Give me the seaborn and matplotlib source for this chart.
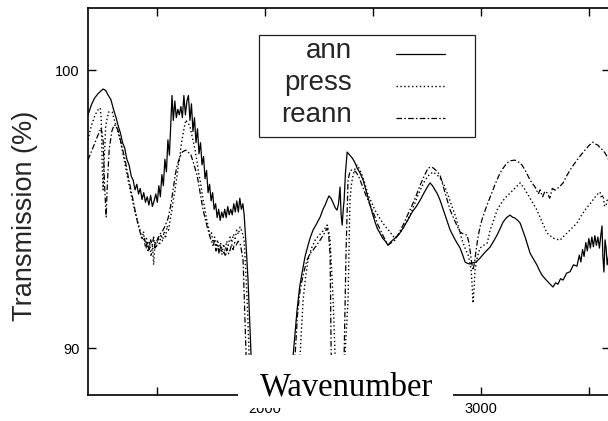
import matplotlib
matplotlib.use("Agg")
import matplotlib.pyplot as plt
from matplotlib.patches import Rectangle
import seaborn as sns
import pandas as pd

# (wavenumber, transmission %) readings for each sample
ann_points = [
    (1180, 98.40), (1195, 98.75), (1210, 99.00), (1225, 99.15), (1238, 99.25),
    (1250, 99.33), (1262, 99.28), (1274, 99.10), (1286, 98.95), (1298, 98.60),
    (1310, 98.30), (1320, 98.00), (1330, 97.75), (1340, 97.40), (1350, 97.20),
    (1360, 96.80), (1370, 96.60), (1380, 96.20), (1389, 96.05), (1398, 95.70),
    (1406, 95.90), (1414, 95.55), (1422, 95.75), (1430, 95.35), (1438, 95.60),
    (1446, 95.25), (1454, 95.45), (1462, 95.15), (1470, 95.50), (1478, 95.10),
    (1486, 95.30), (1494, 95.55), (1501, 95.25), (1508, 95.85), (1515, 95.45),
    (1522, 96.25), (1529, 95.85), (1536, 96.80), (1543, 96.35), (1550, 97.50),
    (1557, 96.95), (1564, 98.20), (1569, 99.10), (1575, 98.20), (1582, 98.90),
    (1589, 98.30), (1596, 98.60), (1603, 98.40), (1610, 98.70), (1617, 98.30),
    (1624, 99.10), (1631, 98.40), (1638, 98.90), (1645, 99.10), (1652, 98.20),
    (1659, 98.80), (1666, 97.80), (1673, 98.30), (1680, 97.40), (1687, 97.90),
    (1694, 97.00), (1701, 97.40), (1708, 96.60), (1715, 96.90), (1722, 96.10),
    (1729, 96.40), (1736, 95.60), (1743, 95.90), (1750, 95.30), (1757, 95.60),
    (1764, 95.00), (1771, 95.20), (1778, 94.70), (1785, 95.00), (1792, 94.60),
    (1799, 94.90), (1806, 94.70), (1813, 95.00), (1820, 94.70), (1827, 95.10),
    (1834, 94.80), (1841, 95.00), (1848, 94.80), (1855, 95.20), (1862, 94.90),
    (1869, 95.30), (1876, 94.90), (1883, 95.40), (1890, 95.00), (1897, 95.20),
    (1903, 94.80), (1912, 93.70), (1921, 92.45), (1935, 89.75), (1945, 86.00),
    (2100, 86.00), (2130, 89.75), (2148, 91.37), (2160, 92.20), (2171, 92.70),
    (2185, 93.30), (2199, 93.71), (2210, 94.00), (2222, 94.25), (2240, 94.50),
    (2255, 94.72), (2268, 95.00), (2278, 95.15), (2288, 95.35), (2296, 95.48),
    (2305, 95.40), (2315, 95.23), (2325, 95.05), (2333, 94.97), (2340, 95.20),
    (2347, 95.80), (2352, 94.80), (2357, 94.43), (2362, 95.00), (2366, 95.33),
    (2372, 96.30), (2380, 97.06), (2392, 96.95), (2403, 96.85), (2415, 96.70),
    (2426, 96.49), (2440, 96.30), (2454, 96.05), (2470, 95.60), (2486, 95.15),
    (2497, 94.85), (2509, 94.54), (2520, 94.30), (2532, 94.14), (2545, 93.95),
    (2557, 93.85), (2569, 93.71), (2585, 93.85), (2602, 93.96), (2620, 94.10),
    (2639, 94.32), (2660, 94.60), (2681, 94.90), (2700, 95.10), (2718, 95.33),
    (2740, 95.65), (2755, 95.85), (2764, 95.95), (2775, 95.85), (2787, 95.69),
    (2798, 95.55), (2810, 95.33), (2833, 94.80), (2857, 94.25), (2880, 93.90),
    (2903, 93.60), (2915, 93.35), (2926, 93.10), (2937, 93.05), (2949, 93.03),
    (2963, 93.08), (2977, 93.10), (2995, 93.24), (3018, 93.45), (3042, 93.64),
    (3058, 93.85), (3074, 94.07), (3088, 94.30), (3102, 94.54), (3118, 94.70),
    (3134, 94.79), (3145, 94.72), (3157, 94.68), (3170, 94.60), (3181, 94.50),
    (3204, 94.00), (3227, 93.42), (3243, 93.20), (3259, 92.99), (3270, 92.80),
    (3282, 92.63), (3296, 92.50), (3310, 92.38), (3320, 92.30), (3333, 92.20),
    (3345, 92.35), (3356, 92.30), (3368, 92.50), (3380, 92.45), (3396, 92.70),
    (3412, 92.75), (3428, 93.00), (3444, 92.95), (3455, 93.35), (3462, 93.10),
    (3470, 93.55), (3477, 93.30), (3485, 93.80), (3492, 93.50), (3499, 93.95),
    (3506, 93.60), (3513, 94.00), (3520, 93.65), (3527, 94.05), (3534, 93.70),
    (3541, 94.00), (3548, 93.60), (3555, 94.10), (3560, 94.40), (3564, 93.30),
    (3569, 92.74), (3574, 93.90), (3579, 93.60), (3584, 93.00), (3590, 93.30),
    (3597, 93.20),
]

press_points = [
    (1180, 97.50), (1195, 98.00), (1213, 98.40), (1228, 98.60), (1237, 98.65),
    (1241, 98.30), (1246, 96.50), (1250, 95.70), (1255, 96.80), (1262, 98.00),
    (1275, 98.50), (1292, 98.50), (1310, 98.00), (1329, 97.50), (1352, 96.60),
    (1375, 95.69), (1398, 94.90), (1412, 94.50), (1421, 94.25), (1430, 93.90),
    (1437, 94.20), (1444, 93.65), (1451, 93.95), (1458, 93.45), (1465, 93.85),
    (1472, 93.30), (1479, 93.70), (1484, 93.00), (1490, 93.80), (1497, 93.60),
    (1504, 94.00), (1511, 93.70), (1518, 94.10), (1525, 93.85), (1532, 94.20),
    (1539, 93.95), (1546, 94.40), (1553, 94.25), (1560, 94.60), (1567, 94.90),
    (1574, 95.30), (1583, 95.69), (1592, 96.20), (1599, 96.60), (1606, 96.95),
    (1613, 97.40), (1620, 97.70), (1627, 98.00), (1634, 98.22), (1641, 98.10),
    (1648, 98.05), (1653, 97.95), (1660, 97.70), (1668, 97.40), (1676, 97.13),
    (1685, 96.70), (1692, 96.30), (1699, 96.05), (1706, 95.70), (1714, 95.30),
    (1722, 94.97), (1730, 94.60), (1738, 94.35), (1745, 94.05), (1752, 94.15),
    (1759, 93.80), (1766, 94.00), (1773, 93.65), (1780, 93.90), (1787, 93.55),
    (1794, 93.80), (1801, 93.45), (1808, 93.75), (1815, 93.50), (1822, 93.85),
    (1829, 93.70), (1838, 94.00), (1846, 93.80), (1853, 94.10), (1861, 93.95),
    (1869, 94.25), (1876, 94.10), (1884, 94.36), (1893, 94.20), (1903, 93.89),
    (1910, 92.80), (1917, 91.73), (1926, 89.75), (1935, 86.00), (2150, 86.00),
    (2162, 89.75), (2176, 91.73), (2188, 92.60), (2199, 93.17), (2215, 93.60),
    (2232, 93.89), (2248, 94.05), (2264, 94.18), (2276, 94.30), (2287, 94.43),
    (2295, 94.20), (2301, 93.89), (2308, 92.80), (2315, 91.73), (2324, 89.75),
    (2334, 86.50), (2360, 86.50), (2370, 89.75), (2384, 91.73), (2393, 95.33),
    (2400, 95.90), (2407, 96.23), (2416, 96.45), (2426, 96.59), (2437, 96.45),
    (2449, 96.23), (2463, 95.90), (2477, 95.51), (2493, 95.25), (2509, 94.97),
    (2525, 94.75), (2542, 94.54), (2560, 94.35), (2579, 94.18), (2590, 94.05),
    (2602, 93.96), (2618, 94.10), (2634, 94.25), (2652, 94.50), (2671, 94.79),
    (2690, 95.15), (2708, 95.51), (2725, 95.80), (2741, 96.05), (2760, 96.25),
    (2778, 96.34), (2795, 96.25), (2810, 96.13), (2830, 95.85), (2847, 95.51),
    (2863, 95.15), (2880, 94.79), (2896, 94.35), (2912, 93.89), (2926, 93.60),
    (2940, 93.35), (2948, 93.10), (2954, 92.81), (2959, 92.20), (2963, 91.62),
    (2968, 92.20), (2972, 92.81), (2983, 93.30), (2995, 93.60), (3011, 93.70),
    (3028, 93.78), (3035, 94.00), (3042, 94.25), (3058, 94.60), (3074, 94.97),
    (3092, 95.20), (3111, 95.41), (3130, 95.55), (3148, 95.69), (3165, 95.82),
    (3181, 95.95), (3200, 95.75), (3218, 95.51), (3238, 95.25), (3259, 94.97),
    (3282, 94.55), (3306, 94.14), (3320, 94.05), (3333, 93.96), (3350, 93.92),
    (3366, 93.89), (3385, 94.05), (3403, 94.18), (3424, 94.35), (3444, 94.50),
    (3462, 94.75), (3481, 94.97), (3505, 95.20), (3528, 95.44), (3540, 95.55),
    (3551, 95.62), (3558, 95.40), (3565, 95.51), (3572, 95.10), (3579, 95.15),
    (3586, 95.40), (3597, 95.30),
]

reann_points = [
    (1180, 96.77), (1194, 97.05), (1208, 97.31), (1225, 97.65), (1241, 97.93),
    (1250, 97.50), (1256, 96.00), (1264, 94.72), (1270, 96.00), (1278, 97.13),
    (1290, 97.80), (1301, 98.04), (1310, 98.00), (1320, 97.82), (1336, 97.30),
    (1352, 96.77), (1368, 96.10), (1384, 95.51), (1398, 94.95), (1412, 94.43),
    (1424, 94.10), (1435, 93.89), (1442, 93.95), (1449, 93.60), (1456, 93.85),
    (1463, 93.55), (1470, 93.90), (1477, 93.70), (1484, 94.00), (1490, 93.60),
    (1497, 93.85), (1505, 93.95), (1512, 94.10), (1523, 94.18), (1537, 94.40),
    (1551, 94.68), (1562, 95.10), (1574, 95.69), (1583, 96.20), (1593, 96.59),
    (1604, 96.85), (1616, 97.06), (1625, 97.10), (1634, 97.13), (1645, 97.05),
    (1657, 96.95), (1671, 96.60), (1685, 96.23), (1699, 95.60), (1713, 94.97),
    (1729, 94.45), (1745, 94.00), (1752, 93.85), (1759, 93.70), (1766, 93.85),
    (1773, 93.50), (1780, 93.70), (1787, 93.40), (1794, 93.65), (1801, 93.35),
    (1810, 93.46), (1817, 93.30), (1824, 93.60), (1831, 93.40), (1838, 93.53),
    (1845, 93.75), (1852, 93.55), (1859, 93.80), (1866, 93.71), (1875, 93.85),
    (1884, 93.78), (1891, 93.50), (1898, 93.17), (1905, 91.50), (1912, 89.75),
    (1920, 86.00), (2120, 86.00), (2139, 89.75), (2150, 91.20), (2162, 92.09),
    (2178, 92.70), (2194, 93.17), (2208, 93.40), (2222, 93.53), (2238, 93.70),
    (2255, 93.89), (2272, 94.10), (2287, 94.32), (2294, 94.10), (2301, 93.35),
    (2306, 89.75), (2315, 86.50), (2355, 86.50), (2366, 89.75), (2375, 93.53),
    (2384, 96.05), (2391, 96.30), (2398, 96.41), (2410, 96.40), (2421, 96.34),
    (2435, 96.15), (2449, 95.87), (2467, 95.50), (2486, 95.15), (2505, 94.80),
    (2523, 94.43), (2546, 94.05), (2569, 93.71), (2585, 93.80), (2602, 93.89),
    (2620, 94.15), (2639, 94.43), (2660, 94.80), (2681, 95.15), (2700, 95.50),
    (2718, 95.87), (2737, 96.20), (2755, 96.49), (2773, 96.52), (2792, 96.40),
    (2810, 96.23), (2833, 95.60), (2857, 94.97), (2880, 94.55), (2903, 94.18),
    (2920, 94.10), (2935, 94.07), (2942, 93.85), (2949, 93.53), (2956, 93.10),
    (2963, 92.81), (2970, 93.10), (2977, 93.53), (2986, 94.00), (2995, 94.36),
    (3007, 94.70), (3019, 94.97), (3030, 95.20), (3042, 95.44), (3065, 95.90),
    (3088, 96.31), (3104, 96.50), (3120, 96.67), (3138, 96.75), (3157, 96.77),
    (3174, 96.70), (3190, 96.59), (3208, 96.35), (3227, 96.05), (3250, 95.80),
    (3265, 95.55), (3273, 95.70), (3285, 95.45), (3296, 95.65), (3306, 95.59),
    (3318, 95.40), (3330, 95.75), (3343, 95.69), (3362, 95.80), (3380, 95.95),
    (3396, 96.20), (3412, 96.41), (3428, 96.60), (3444, 96.77), (3462, 96.95),
    (3481, 97.13), (3500, 97.30), (3518, 97.42), (3530, 97.35), (3541, 97.31),
    (3553, 97.20), (3565, 97.13), (3580, 96.95), (3597, 96.70),
]

series_names = ["ann", "press", "reann"]
x_tick_values = [1500, 2000, 2500, 3000, 3500]
x_tick_labels = ["", "2000", "", "3000", ""]
y_tick_values = [90, 100]
y_tick_labels = ["90", "100"]

sns.set_theme(style="ticks")
plt.rcParams["font.family"] = ["Liberation Sans", "DejaVu Sans"]

W, H = 608, 421
fig = plt.figure(figsize=(W / 100, H / 100), dpi=100)
fig.patch.set_facecolor("white")
ax = fig.add_axes([88 / W, 26 / H, 522 / W, 387 / H])
ax.set_facecolor("white")

styles = {
    "ann": dict(linestyle="-", linewidth=0.9),
    "press": dict(linestyle=(0, (1.0, 1.8)), linewidth=1.0),
    "reann": dict(linestyle=(0, (4.5, 1.8, 1.2, 1.8)), linewidth=0.9),
}
for name, pts in zip(series_names, [ann_points, press_points, reann_points]):
    df = pd.DataFrame(pts, columns=["wavenumber", "transmission"])
    sns.lineplot(data=df, x="wavenumber", y="transmission", ax=ax,
                 color="black", estimator=None, sort=False, label=name,
                 **styles[name])

ax.set_xlim(1180, 3597)
ax.set_ylim(88.31, 102.25)
ax.set_xticks(x_tick_values)
ax.set_xticklabels(x_tick_labels)
ax.set_yticks(y_tick_values)
ax.set_yticklabels(y_tick_labels)
ax.tick_params(axis="both", which="both", direction="in", length=6, width=1.0,
               color="black", labelsize=10.5, labelcolor="black",
               top=True, right=True, bottom=True, left=True)
ax.tick_params(axis="x", pad=5)
ax.tick_params(axis="y", pad=6)
for sp in ax.spines.values():
    sp.set_visible(True)
    sp.set_color("black")
    sp.set_linewidth(1.2)
ax.set_xlabel("")
ax.set_ylabel("Transmission (%)", fontsize=19.5)
ax.yaxis.set_label_coords((38 - 88) / 522, (395 - 216) / 387)

# legend: labels on the left, right-aligned, samples on the right
leg = ax.legend(loc="upper left", bbox_to_anchor=((281 - 88) / 522, (395 - 38) / 387),
                borderaxespad=0, markerfirst=False, fontsize=20, frameon=False,
                handlelength=1.75, handletextpad=1.6, labelspacing=0.22,
                borderpad=0)
leg.set_zorder(6)
for line in leg.get_lines():
    line.set_color("black")
    # sit the sample strokes a little lower, near the label baseline
    line.set_ydata([y - 4.3 for y in line.get_ydata()])
ax.add_patch(Rectangle((259 / W, (H - 137) / H), 216 / W, 102 / H,
                       transform=fig.transFigure, facecolor="white",
                       edgecolor="#222222", linewidth=0.9, zorder=5,
                       clip_on=False))

# white panel carrying the axis title over the lower edge of the plot
fig.add_artist(Rectangle((238 / W, 13 / H), 215 / W, 53 / H,
                         transform=fig.transFigure, facecolor="white",
                         edgecolor="none", zorder=5))
fig.text(347 / W, 26 / H, "Wavenumber", ha="center", va="baseline",
         fontsize=23.5, family=["Liberation Serif", "DejaVu Serif"],
         color="black", zorder=6)

fig.savefig("out.png", dpi=100, facecolor="white")
